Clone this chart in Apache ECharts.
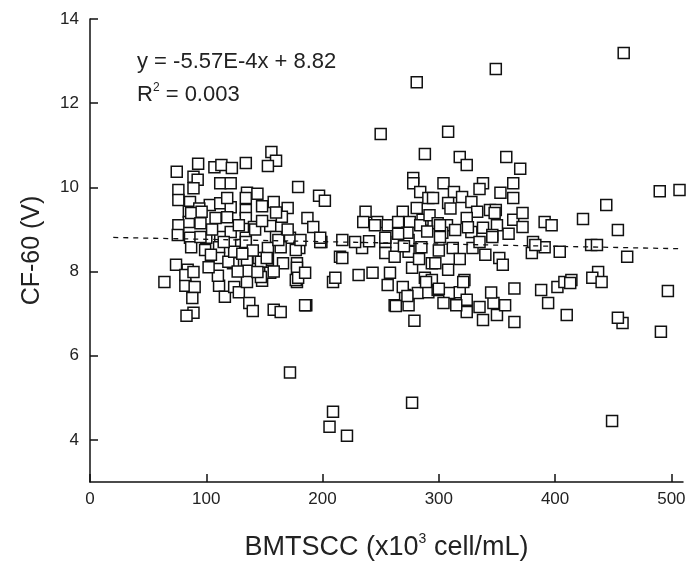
<!DOCTYPE html>
<html>
<head>
<meta charset="utf-8">
<script src="https://cdn.jsdelivr.net/npm/echarts@6/dist/echarts.min.js"></script>
<style>
html,body{margin:0;padding:0;background:#fff;}
#chart{width:699px;height:562px;}
</style>
</head>
<body>
<div id="chart"></div>
<script>
// BMTSCC (x10^3 cell/mL)
var bmtscc = [
 74.6,93,89,92.6,107,113,122,134,156,160,153,179,197,202,76,76,86,89,112,121,
 135,144,134,158,170,103,112,121,134,85,85,76,94,108,118,134,141,187,192,155,
 75.5,86,100,112,121,134,142,160,172,180,87,95,111,130,153,164,215,199,217,74,
 84,111,123,135,145,153,166,178,64,82,90,88,89,83,111,116,124,128,137,140,
 135,148,158,164,178,186,209,82,89,99,119,124,134,147,152,162,155,147,110,177,
 177,178,144,87,96,105,128,148,115,140,102,158,127,118,148,165,170,95,104,131,
 160,
 181,198,217,234,254,254,262,274,274,285,277,258,256,243,231,211,179,185,185,262,
 271,282,274,279,291,288,294,198,278,278,284,291,237,235,247,245,256,269,265,275,
 281,286,284,292,254,273,
 250,308,281,349,459,288,318,324,358,370,304,338,364,444,424,454,462,490,507,
 313,335,353,364,320,328,295,308,333,344,349,324,350,364,372,372,391,397,299,307,
 314,328,338,303,346,301,312,329,346,352,355,381,380,391,404,297,308,322,294,299,
 309,318,304,324,324,335,338,347,350,357,365,365,388,394,402,408,431,436,414,437,
 432,440,497,491,458,454,410,413,321,269,289,263,273,300,383,348,301,
 265,300,318,335,290,310,340,360,325,270,283,315,345,228,240,
 172,206,209,221,277,449
];
// CF-60 (V)
var cf60 = [
 10.37,10.56,10.25,10.18,10.48,10.53,10.46,10.58,10.84,10.63,10.51,10.01,9.8,9.68,9.94,9.7,9.65,9.98,10.1,10.1,
 9.87,9.85,9.75,9.65,9.51,9.58,9.62,9.53,9.46,9.42,9.18,9.1,9.5,9.27,9.29,9.27,9.06,9.27,9.06,9.08,
 8.87,8.8,8.8,8.82,8.94,8.8,9.0,8.82,8.8,8.56,8.58,8.82,8.58,8.63,8.56,8.58,8.35,8.7,8.75,8.16,
 8.04,8.32,8.2,8.28,8.32,8.28,8.2,8.2,7.75,7.66,7.63,7.37,7.02,6.95,7.66,7.4,7.63,7.51,7.25,7.06,
 7.75,7.78,7.09,7.04,7.75,7.2,7.75,7.92,7.99,8.51,8.23,8.47,8.7,8.23,8.32,8.75,7.97,7.87,7.9,8.51,
 7.8,8.09,7.99,9.39,9.42,9.0,9.1,9.2,8.7,8.5,8.1,8.0,8.0,9.75,9.55,9.3,9.0,9.15,8.4,8.42,
 9.4,
 8.75,8.7,8.32,8.56,8.7,8.44,8.35,8.47,8.75,8.58,8.09,7.97,7.68,7.97,7.92,7.85,7.85,7.97,7.2,7.2,
 7.44,7.49,7.2,6.83,7.51,7.85,8.2,8.8,10.22,10.1,9.89,9.75,9.42,9.18,9.18,9.1,9.1,9.42,9.18,9.18,
 9.51,9.23,9.1,9.34,8.8,8.92,
 11.27,11.32,12.5,12.81,13.19,10.79,10.72,10.53,10.72,10.44,10.1,10.1,10.1,9.58,9.25,8.99,8.35,9.91,9.94,
 9.89,9.96,9.87,9.75,9.77,9.65,9.75,9.63,9.42,9.46,9.46,9.27,9.1,9.23,9.39,9.06,9.18,9.1,9.15,9.1,
 8.99,8.94,9.04,8.92,8.87,8.82,8.56,8.56,8.82,8.32,8.16,8.7,8.44,8.58,8.47,8.2,8.04,7.8,7.8,7.56,
 7.49,7.51,7.25,7.33,7.04,7.16,6.85,7.25,6.97,7.2,7.6,6.8,7.56,7.25,7.63,7.75,8.63,8.63,7.8,7.99,
 7.85,7.75,7.54,6.57,6.78,6.9,6.97,7.73,7.75,7.63,7.75,7.18,7.42,7.59,8.63,9.39,9.1,
 8.9,8.5,8.3,8.7,8.95,9.5,8.4,8.9,9.05,8.6,8.3,7.2,7.5,8.7,8.72,
 5.6,4.31,4.67,4.1,4.88,4.45
];
// dashed fit line, read at its two ends
var fitX = [20, 510];
var fitY = [8.81, 8.54];
var xTicks = [0, 100, 200, 300, 400, 500];
var yTicks = [4, 6, 8, 10, 12, 14];
var eqText = 'y = -5.57E-4x + 8.82';
var r2Value = '0.003';

var pts = bmtscc.map(function (x, i) { return [x, cf60[i]]; });
var fitPts = fitX.map(function (x, i) { return [x, fitY[i]]; });

var chart = echarts.init(document.getElementById('chart'), null, {renderer: 'canvas'});
var font = 'Liberation Sans, Arial, sans-serif';
chart.setOption({
  animation: false,
  backgroundColor: '#fff',
  grid: {left: 90, right: 16, top: 19, bottom: 80, containLabel: false, outerBoundsMode: 'none'},
  xAxis: {
    type: 'value', min: 0, max: 510,
    splitLine: {show: false},
    axisLine: {show: true, onZero: false, lineStyle: {color: '#111', width: 1.5}},
    axisTick: {show: true, inside: true, length: 8, customValues: xTicks, lineStyle: {color: '#111', width: 1.5}},
    axisLabel: {customValues: xTicks, fontSize: 17, color: '#222', fontFamily: font, margin: 9},
    name: '{a|BMTSCC (x10}{s|3}{a| cell/mL)}',
    nameLocation: 'middle', nameGap: 50,
    nameTextStyle: {
      rich: {
        a: {fontSize: 27, color: '#222', fontFamily: font, lineHeight: 31},
        s: {fontSize: 14, color: '#222', fontFamily: font, verticalAlign: 'top', lineHeight: 16}
      }
    }
  },
  yAxis: {
    type: 'value', min: 3, max: 14,
    splitLine: {show: false},
    axisLine: {show: true, onZero: false, lineStyle: {color: '#111', width: 1.5}},
    axisTick: {show: true, inside: true, length: 8, customValues: yTicks, lineStyle: {color: '#111', width: 1.5}},
    axisLabel: {customValues: yTicks, fontSize: 17, color: '#222', fontFamily: font, margin: 11},
    name: 'CF-60 (V)', nameLocation: 'middle', nameGap: 45, nameRotate: 90,
    nameTextStyle: {fontSize: 25, color: '#222', fontFamily: font}
  },
  graphic: [
    {type: 'text', left: 137, top: 51, style: {text: eqText, fill: '#222', font: '22px Liberation Sans, Arial, sans-serif'}},
    {type: 'text', left: 137, top: 82, style: {
      text: '{a|R}{s|2}{a| = ' + r2Value + '}',
      rich: {
        a: {fontSize: 22, fill: '#222', fontFamily: font, lineHeight: 26},
        s: {fontSize: 12, fill: '#222', fontFamily: font, verticalAlign: 'top', lineHeight: 14}
      }
    }}
  ],
  series: [
    {
      type: 'scatter', data: pts, symbol: 'rect', symbolSize: 11, clip: false,
      itemStyle: {color: '#fff', borderColor: '#111', borderWidth: 1.5, opacity: 1},
      emphasis: {disabled: true}, z: 2
    },
    {
      type: 'line', data: fitPts, showSymbol: false, symbol: 'none',
      lineStyle: {color: '#111', width: 1.3, type: [5, 5]}, z: 3, silent: true
    }
  ]
});
</script>
</body>
</html>
